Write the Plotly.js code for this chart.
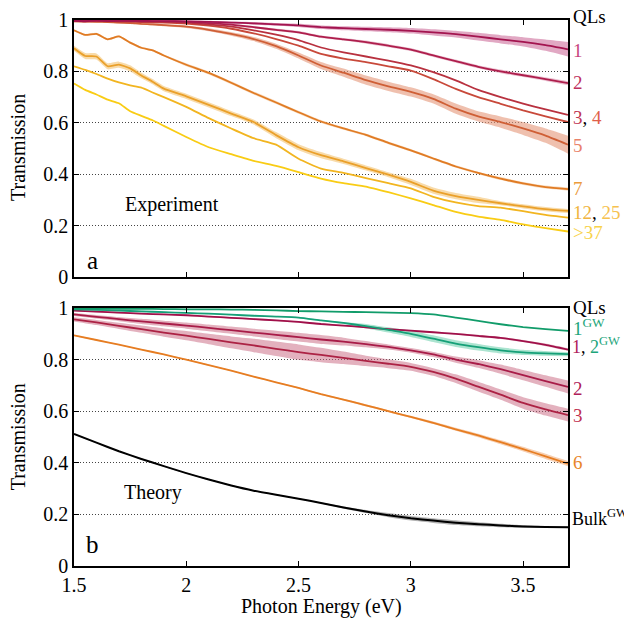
<!DOCTYPE html>
<html><head><meta charset="utf-8">
<script src="https://cdn.plot.ly/plotly-3.0.1.min.js"></script>
<style>body{margin:0;padding:0;background:#fff;overflow:hidden}#chart{width:624px;height:622px}</style>
</head><body><div id="chart"></div>
<script>
// ---------- Experiment (panel a) ----------
const expX = [1.5,1.55,1.6,1.65,1.7,1.75,1.8,1.85,1.9,2.0,2.1,2.2,2.3,2.4,2.5,2.6,2.7,2.8,2.9,3.0,3.1,3.2,3.3,3.4,3.5,3.6,3.7];
const expQL1 = [0.998,0.995,1.0,0.996,0.998,0.997,0.997,0.996,0.996,0.995,0.993,0.99,0.987,0.983,0.979,0.972,0.968,0.965,0.962,0.958,0.952,0.945,0.935,0.925,0.915,0.902,0.886];
const expQL1err = [0.004,0.006,0.008,0.006,0.004,0.004,0.004,0.004,0.004,0.004,0.004,0.004,0.005,0.005,0.006,0.007,0.008,0.009,0.01,0.011,0.012,0.013,0.015,0.016,0.018,0.022,0.028];
const expQL2 = [0.997,0.997,0.997,0.996,0.996,0.996,0.995,0.995,0.995,0.993,0.988,0.982,0.972,0.962,0.952,0.935,0.925,0.914,0.9,0.885,0.862,0.84,0.818,0.8,0.785,0.77,0.754];
const expQL2err = [0.003,0.003,0.003,0.003,0.003,0.003,0.003,0.003,0.003,0.003,0.004,0.004,0.004,0.005,0.005,0.005,0.005,0.006,0.006,0.006,0.006,0.006,0.006,0.007,0.007,0.007,0.008];
const expQL3 = [0.997,0.997,0.996,0.996,0.995,0.995,0.994,0.994,0.993,0.99,0.983,0.974,0.96,0.943,0.922,0.893,0.874,0.858,0.842,0.823,0.797,0.765,0.728,0.7,0.675,0.652,0.631];
const expQL4 = [0.997,0.997,0.996,0.995,0.994,0.993,0.992,0.991,0.99,0.986,0.978,0.966,0.948,0.926,0.9,0.868,0.85,0.836,0.82,0.803,0.77,0.732,0.7,0.674,0.648,0.625,0.603];
const expQL5 = [0.995,0.994,0.993,0.992,0.99,0.988,0.985,0.983,0.98,0.974,0.962,0.946,0.926,0.898,0.862,0.823,0.795,0.766,0.742,0.72,0.693,0.655,0.625,0.603,0.578,0.55,0.515];
const expQL5err = [0.004,0.004,0.004,0.004,0.004,0.004,0.004,0.004,0.004,0.005,0.006,0.007,0.008,0.01,0.012,0.014,0.016,0.018,0.018,0.018,0.018,0.02,0.02,0.022,0.025,0.028,0.035];
const expQL7 = [0.96,0.942,0.946,0.925,0.936,0.912,0.892,0.882,0.862,0.826,0.794,0.756,0.716,0.679,0.641,0.605,0.578,0.553,0.522,0.493,0.461,0.43,0.405,0.383,0.364,0.35,0.342];
const expQL7err = [0.004,0.004,0.004,0.004,0.004,0.004,0.004,0.004,0.004,0.006,0.006,0.006,0.006,0.006,0.006,0.006,0.005,0.005,0.005,0.005,0.005,0.005,0.005,0.006,0.006,0.006,0.006];
const expQL12 = [0.89,0.86,0.858,0.82,0.826,0.812,0.784,0.76,0.733,0.703,0.67,0.636,0.603,0.552,0.505,0.474,0.45,0.424,0.398,0.37,0.336,0.315,0.3,0.287,0.275,0.264,0.257];
const expQL12err = [0.01,0.012,0.012,0.012,0.012,0.012,0.011,0.01,0.01,0.01,0.01,0.01,0.01,0.012,0.012,0.012,0.01,0.01,0.01,0.012,0.012,0.012,0.012,0.008,0.008,0.008,0.008];
const expQL25 = [0.82,0.806,0.79,0.772,0.757,0.746,0.737,0.718,0.7,0.662,0.618,0.578,0.54,0.515,0.46,0.422,0.405,0.385,0.365,0.345,0.312,0.29,0.276,0.27,0.256,0.242,0.231];
const expQL37 = [0.753,0.728,0.71,0.69,0.676,0.645,0.627,0.61,0.588,0.545,0.505,0.478,0.452,0.432,0.408,0.383,0.365,0.352,0.33,0.306,0.28,0.253,0.235,0.222,0.205,0.19,0.177];

// ---------- Theory (panel b) ----------
const thX = [1.5,1.6,1.7,1.8,1.9,2.0,2.1,2.2,2.3,2.4,2.5,2.6,2.7,2.8,2.9,3.0,3.1,3.2,3.3,3.4,3.5,3.6,3.7];
const th1GW = [0.998,0.998,0.997,0.997,0.996,0.995,0.995,0.994,0.993,0.991,0.988,0.987,0.985,0.984,0.982,0.98,0.975,0.963,0.95,0.937,0.926,0.918,0.911];
const th2GW = [0.995,0.993,0.99,0.987,0.984,0.981,0.978,0.974,0.97,0.967,0.963,0.952,0.942,0.93,0.915,0.9,0.881,0.862,0.848,0.836,0.828,0.824,0.821];
const th2GWerr = [0.002,0.002,0.002,0.002,0.002,0.002,0.002,0.002,0.002,0.002,0.002,0.002,0.004,0.008,0.01,0.012,0.013,0.013,0.013,0.012,0.01,0.009,0.008];
const th1 = [0.99,0.986,0.982,0.978,0.975,0.972,0.967,0.962,0.957,0.952,0.946,0.938,0.932,0.925,0.918,0.912,0.906,0.9,0.892,0.884,0.872,0.857,0.839];
const th1err = [0.003,0.003,0.003,0.003,0.003,0.003,0.003,0.003,0.003,0.003,0.003,0.003,0.003,0.003,0.003,0.003,0.003,0.003,0.004,0.004,0.004,0.005,0.005];
const th2 = [0.975,0.966,0.957,0.948,0.94,0.932,0.923,0.914,0.905,0.896,0.887,0.878,0.87,0.86,0.849,0.836,0.82,0.8,0.783,0.763,0.74,0.717,0.694];
const th2err = [0.006,0.007,0.008,0.01,0.011,0.012,0.013,0.014,0.015,0.016,0.017,0.017,0.015,0.012,0.01,0.009,0.01,0.012,0.015,0.018,0.02,0.022,0.025];
const th3 = [0.956,0.944,0.931,0.918,0.905,0.893,0.88,0.867,0.855,0.842,0.829,0.818,0.807,0.795,0.784,0.772,0.752,0.726,0.695,0.664,0.632,0.607,0.585];
const th3err = [0.008,0.01,0.012,0.014,0.016,0.018,0.02,0.023,0.026,0.028,0.03,0.028,0.024,0.02,0.017,0.015,0.015,0.017,0.019,0.02,0.022,0.024,0.025];
const th6 = [0.894,0.876,0.858,0.839,0.82,0.8,0.779,0.757,0.734,0.712,0.69,0.666,0.645,0.623,0.6,0.578,0.555,0.53,0.506,0.48,0.453,0.425,0.397];
const th6err = [0.002,0.002,0.002,0.002,0.002,0.002,0.002,0.002,0.002,0.002,0.003,0.003,0.003,0.004,0.004,0.004,0.005,0.006,0.007,0.008,0.009,0.01,0.01];
const thBulk = [0.512,0.478,0.445,0.415,0.387,0.36,0.335,0.312,0.292,0.276,0.261,0.244,0.227,0.211,0.197,0.185,0.176,0.168,0.162,0.157,0.153,0.151,0.15];
const thBulkErr = [0.002,0.002,0.002,0.002,0.002,0.002,0.002,0.002,0.002,0.002,0.002,0.002,0.004,0.006,0.008,0.009,0.009,0.009,0.008,0.007,0.005,0.004,0.003];

const yTickVals = [0,0.2,0.4,0.6,0.8,1];
const yTickText = ['0','0.2','0.4','0.6','0.8','1'];
const xTickVals = [1.5,2,2.5,3,3.5];
const xTickText = ['1.5','2','2.5','3','3.5'];

const SERIF = 'Liberation Serif';
const FS = 20;
const LFS = 19;
const traces = [];
function addBand(x, y, e, fill, xa, ya) {
  const up = y.map((v,i)=>v+e[i]);
  const lo = y.map((v,i)=>v-e[i]);
  traces.push({x:x, y:up, xaxis:xa, yaxis:ya, mode:'lines', line:{width:0, shape:'spline', smoothing:0.5}, hoverinfo:'skip', showlegend:false});
  traces.push({x:x, y:lo, xaxis:xa, yaxis:ya, mode:'lines', line:{width:0, shape:'spline', smoothing:0.5}, fill:'tonexty', fillcolor:fill, hoverinfo:'skip', showlegend:false});
}
function addLine(x, y, color, xa, ya, w) {
  traces.push({x:x, y:y, xaxis:xa, yaxis:ya, mode:'lines', line:{color:color, width:w||1.8, shape:'spline', smoothing:0.5}, showlegend:false});
}

addBand(expX, expQL1, expQL1err, 'rgba(205,110,155,0.6)', 'x', 'y');
addBand(expX, expQL2, expQL2err, 'rgba(205,100,140,0.4)', 'x', 'y');
addBand(expX, expQL5, expQL5err, 'rgba(228,150,120,0.6)', 'x', 'y');
addBand(expX, expQL7, expQL7err, 'rgba(240,175,110,0.45)', 'x', 'y');
addBand(expX, expQL12, expQL12err, 'rgba(245,200,125,0.65)', 'x', 'y');
addLine(expX, expQL37, '#f9cc14', 'x', 'y');
addLine(expX, expQL25, '#f2b520', 'x', 'y');
addLine(expX, expQL12, '#eaa02a', 'x', 'y');
addLine(expX, expQL7, '#e07b24', 'x', 'y');
addLine(expX, expQL5, '#cf5f36', 'x', 'y');
addLine(expX, expQL4, '#c8493a', 'x', 'y');
addLine(expX, expQL3, '#b8313f', 'x', 'y');
addLine(expX, expQL2, '#ae1e4c', 'x', 'y');
addLine(expX, expQL1, '#a3144f', 'x', 'y');

addBand(thX, thBulk, thBulkErr, 'rgba(0,0,0,0.3)', 'x2', 'y2');
addBand(thX, th6, th6err, 'rgba(240,160,100,0.5)', 'x2', 'y2');
addBand(thX, th3, th3err, 'rgba(200,100,125,0.5)', 'x2', 'y2');
addBand(thX, th2, th2err, 'rgba(200,100,125,0.5)', 'x2', 'y2');
addBand(thX, th1, th1err, 'rgba(200,100,125,0.4)', 'x2', 'y2');
addBand(thX, th2GW, th2GWerr, 'rgba(70,195,150,0.45)', 'x2', 'y2');
addLine(thX, thBulk, '#000000', 'x2', 'y2', 2);
addLine(thX, th6, '#e67d22', 'x2', 'y2');
addLine(thX, th3, '#ac2244', 'x2', 'y2');
addLine(thX, th2, '#a81c48', 'x2', 'y2');
addLine(thX, th1, '#a0104a', 'x2', 'y2');
addLine(thX, th2GW, '#16a078', 'x2', 'y2');
addLine(thX, th1GW, '#119c6a', 'x2', 'y2');

const yBase = {range:[0,1], tickvals:yTickVals, ticktext:yTickText, ticks:'inside', ticklen:5, tickcolor:'#000',
  showline:true, linecolor:'#000', linewidth:1.5, mirror:'ticks', showgrid:true, gridcolor:'#444', griddash:'1px,2px', gridwidth:1,
  zeroline:false, tickfont:{family:SERIF, size:FS, color:'#000'}};
const xBase = {range:[1.5,3.7], tickvals:xTickVals, ticktext:xTickText, ticks:'inside', ticklen:5, tickcolor:'#000',
  showline:true, linecolor:'#000', linewidth:1.5, mirror:'ticks', showgrid:false, zeroline:false,
  tickfont:{family:SERIF, size:FS, color:'#000'}};

function ann(text, x, y, opts) {
  return Object.assign({text:text, x:x, y:y, xref:'paper', yref:'paper', showarrow:false, xanchor:'left', yanchor:'middle',
    font:{family:SERIF, size:FS, color:'#000'}}, opts||{});
}
const RF = {font:{family:SERIF, size:LFS, color:'#000'}};
const annotations = [
  ann('QLs', 1.006, 1.006, RF),
  ann('<span style="color:#c8457e">1</span>', 1.006, 0.945, RF),
  ann('<span style="color:#c0305e">2</span>', 1.006, 0.885, RF),
  ann('<span style="color:#c03552">3</span>, <span style="color:#e0604a">4</span>', 1.006, 0.822, RF),
  ann('<span style="color:#e9826a">5</span>', 1.006, 0.771, RF),
  ann('<span style="color:#eb9b3c">7</span>', 1.006, 0.692, RF),
  ann('<span style="color:#f0b440">12</span>, <span style="color:#f6c24f">25</span>', 1.006, 0.648, RF),
  ann('<span style="color:#f8d24a">&gt;37</span>', 1.006, 0.61, RF),
  ann('QLs', 1.006, 0.474, RF),
  ann('<span style="color:#1ca57a">1<sup>GW</sup></span>', 1.006, 0.437, RF),
  ann('<span style="color:#b0205a">1</span>, <span style="color:#1ca57a">2<sup>GW</sup></span>', 1.004, 0.404, {font:{family:SERIF, size:18, color:'#000'}}),
  ann('<span style="color:#b0205a">2</span>', 1.006, 0.326, RF),
  ann('<span style="color:#c03050">3</span>', 1.006, 0.275, RF),
  ann('<span style="color:#e8852a">6</span>', 1.006, 0.19, RF),
  ann('Bulk<sup>GW</sup>', 1.004, 0.088, {font:{family:SERIF, size:18, color:'#000'}}),
  ann('Experiment', 0.198, 0.663, {xanchor:'center'}),
  ann('Theory', 0.16, 0.134, {xanchor:'center'}),
  ann('a', 0.038, 0.56, {xanchor:'center', font:{family:SERIF, size:25, color:'#000'}}),
  ann('b', 0.038, 0.04, {xanchor:'center', font:{family:SERIF, size:25, color:'#000'}}),
  ann('Transmission', -0.113, 0.766, {xanchor:'center', textangle:-90}),
  ann('Transmission', -0.113, 0.236, {xanchor:'center', textangle:-90}),
  ann('Photon Energy (eV)', 0.5, -0.075, {xanchor:'center'})
];

const layout = {
  width:624, height:622,
  margin:{l:74, r:56, t:20, b:56},
  paper_bgcolor:'#fff', plot_bgcolor:'#fff',
  showlegend:false,
  xaxis: Object.assign({}, xBase, {anchor:'y', showticklabels:false, matches:'x2'}),
  yaxis: Object.assign({}, yBase, {domain:[0.5293,1], anchor:'x'}),
  xaxis2: Object.assign({}, xBase, {anchor:'y2'}),
  yaxis2: Object.assign({}, yBase, {domain:[0,0.4725], anchor:'x2'}),
  annotations: annotations,
  font:{family:SERIF, size:FS, color:'#000'}
};
Plotly.newPlot('chart', traces, layout, {displayModeBar:false});
</script></body></html>
